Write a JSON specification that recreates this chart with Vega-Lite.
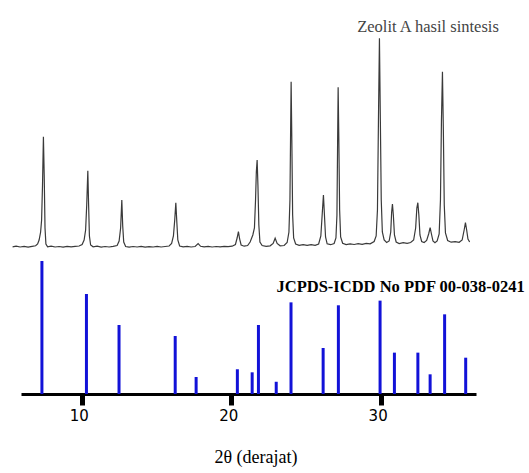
{
  "$schema": "https://vega.github.io/schema/vega-lite/v6.json",
  "width": 455,
  "height": 374,
  "autosize": {"type": "none"},
  "padding": {"left": 21, "top": 20, "right": 53, "bottom": 79},
  "background": "white",
  "config": {"view": {"stroke": null}},
  "datasets": {
    "xrd": [
      {"theta": 5.368, "intensity": -0.8}, {"theta": 5.603, "intensity": -0.2}, {"theta": 5.870, "intensity": -1.0},
      {"theta": 6.138, "intensity": -0.4}, {"theta": 6.406, "intensity": -1.1}, {"theta": 6.674, "intensity": -0.3},
      {"theta": 6.908, "intensity": 0.2}, {"theta": 7.042, "intensity": 2}, {"theta": 7.142, "intensity": 6},
      {"theta": 7.243, "intensity": 14}, {"theta": 7.309, "intensity": 26}, {"theta": 7.370, "intensity": 61},
      {"theta": 7.430, "intensity": 109.3}, {"theta": 7.483, "intensity": 71}, {"theta": 7.537, "intensity": 18},
      {"theta": 7.597, "intensity": 2}, {"theta": 7.711, "intensity": -0.8}, {"theta": 7.945, "intensity": -0.2},
      {"theta": 8.213, "intensity": -1.0}, {"theta": 8.481, "intensity": -0.5}, {"theta": 8.748, "intensity": -1.2},
      {"theta": 9.016, "intensity": -0.4}, {"theta": 9.284, "intensity": -0.9}, {"theta": 9.552, "intensity": -0.3},
      {"theta": 9.819, "intensity": 0}, {"theta": 10.020, "intensity": 1.5}, {"theta": 10.154, "intensity": 6},
      {"theta": 10.254, "intensity": 16}, {"theta": 10.328, "intensity": 41}, {"theta": 10.402, "intensity": 75.3},
      {"theta": 10.455, "intensity": 41}, {"theta": 10.509, "intensity": 10}, {"theta": 10.589, "intensity": 1},
      {"theta": 10.756, "intensity": -0.8}, {"theta": 11.024, "intensity": -0.2}, {"theta": 11.292, "intensity": -1.1},
      {"theta": 11.559, "intensity": -0.5}, {"theta": 11.827, "intensity": -1.0}, {"theta": 12.095, "intensity": -0.3},
      {"theta": 12.363, "intensity": 0.5}, {"theta": 12.496, "intensity": 5}, {"theta": 12.597, "intensity": 18},
      {"theta": 12.677, "intensity": 46}, {"theta": 12.737, "intensity": 20}, {"theta": 12.804, "intensity": 4},
      {"theta": 12.932, "intensity": -0.5}, {"theta": 13.166, "intensity": -1.2}, {"theta": 13.434, "intensity": -0.5},
      {"theta": 13.701, "intensity": -1.0}, {"theta": 13.969, "intensity": -0.3}, {"theta": 14.237, "intensity": -1.1},
      {"theta": 14.504, "intensity": -0.6}, {"theta": 14.772, "intensity": -1.0}, {"theta": 15.040, "intensity": -0.4},
      {"theta": 15.307, "intensity": -1.0}, {"theta": 15.575, "intensity": -0.5}, {"theta": 15.843, "intensity": 0},
      {"theta": 16.010, "intensity": 2.5}, {"theta": 16.131, "intensity": 10}, {"theta": 16.218, "intensity": 26},
      {"theta": 16.291, "intensity": 43.3}, {"theta": 16.358, "intensity": 24}, {"theta": 16.425, "intensity": 6},
      {"theta": 16.546, "intensity": 0}, {"theta": 16.780, "intensity": -0.8}, {"theta": 17.048, "intensity": -0.3},
      {"theta": 17.315, "intensity": -1.0}, {"theta": 17.583, "intensity": -0.5}, {"theta": 17.784, "intensity": 2.5},
      {"theta": 17.951, "intensity": -0.3}, {"theta": 18.186, "intensity": -0.9}, {"theta": 18.453, "intensity": -0.4},
      {"theta": 18.721, "intensity": -1.0}, {"theta": 18.989, "intensity": -0.5}, {"theta": 19.256, "intensity": -0.9},
      {"theta": 19.524, "intensity": -0.3}, {"theta": 19.792, "intensity": -0.7}, {"theta": 20.060, "intensity": -0.2},
      {"theta": 20.280, "intensity": 1.5}, {"theta": 20.394, "intensity": 8}, {"theta": 20.481, "intensity": 14.3},
      {"theta": 20.561, "intensity": 7}, {"theta": 20.662, "intensity": 1}, {"theta": 20.863, "intensity": -0.2},
      {"theta": 21.097, "intensity": 0.5}, {"theta": 21.264, "intensity": 4}, {"theta": 21.445, "intensity": 11},
      {"theta": 21.552, "intensity": 18}, {"theta": 21.626, "intensity": 46}, {"theta": 21.679, "intensity": 74},
      {"theta": 21.733, "intensity": 86}, {"theta": 21.786, "intensity": 61}, {"theta": 21.847, "intensity": 21},
      {"theta": 21.920, "intensity": 4}, {"theta": 22.068, "intensity": 0.5}, {"theta": 22.335, "intensity": -0.3},
      {"theta": 22.603, "intensity": 0.2}, {"theta": 22.804, "intensity": 2.5}, {"theta": 22.938, "intensity": 7.7},
      {"theta": 23.071, "intensity": 2.5}, {"theta": 23.272, "intensity": 0.2}, {"theta": 23.540, "intensity": 0.5},
      {"theta": 23.741, "intensity": 3.5}, {"theta": 23.861, "intensity": 14}, {"theta": 23.928, "intensity": 46},
      {"theta": 23.968, "intensity": 106}, {"theta": 24.008, "intensity": 164.3}, {"theta": 24.055, "intensity": 106},
      {"theta": 24.109, "intensity": 31}, {"theta": 24.176, "intensity": 8}, {"theta": 24.310, "intensity": 2},
      {"theta": 24.544, "intensity": 0.7}, {"theta": 24.811, "intensity": 1.4}, {"theta": 25.079, "intensity": 0.6},
      {"theta": 25.347, "intensity": 1.3}, {"theta": 25.615, "intensity": 0.7}, {"theta": 25.849, "intensity": 2},
      {"theta": 25.996, "intensity": 10}, {"theta": 26.097, "intensity": 34}, {"theta": 26.170, "intensity": 51},
      {"theta": 26.237, "intensity": 31}, {"theta": 26.311, "intensity": 9}, {"theta": 26.418, "intensity": 2.2},
      {"theta": 26.652, "intensity": 1.3}, {"theta": 26.886, "intensity": 2.5}, {"theta": 27.007, "intensity": 8},
      {"theta": 27.074, "intensity": 31}, {"theta": 27.114, "intensity": 96}, {"theta": 27.154, "intensity": 158.7},
      {"theta": 27.201, "intensity": 106}, {"theta": 27.254, "intensity": 36}, {"theta": 27.321, "intensity": 9},
      {"theta": 27.455, "intensity": 2.8}, {"theta": 27.690, "intensity": 1.4}, {"theta": 27.957, "intensity": 2.2},
      {"theta": 28.225, "intensity": 1.5}, {"theta": 28.493, "intensity": 2.4}, {"theta": 28.760, "intensity": 1.7},
      {"theta": 29.028, "intensity": 2.6}, {"theta": 29.296, "intensity": 2.2}, {"theta": 29.564, "intensity": 4.5},
      {"theta": 29.698, "intensity": 10}, {"theta": 29.785, "intensity": 36}, {"theta": 29.852, "intensity": 126},
      {"theta": 29.918, "intensity": 207.7}, {"theta": 29.979, "intensity": 126}, {"theta": 30.039, "intensity": 46},
      {"theta": 30.112, "intensity": 14}, {"theta": 30.233, "intensity": 6}, {"theta": 30.400, "intensity": 3.5},
      {"theta": 30.567, "intensity": 5}, {"theta": 30.675, "intensity": 14}, {"theta": 30.735, "intensity": 34},
      {"theta": 30.788, "intensity": 42}, {"theta": 30.848, "intensity": 31}, {"theta": 30.922, "intensity": 11},
      {"theta": 31.036, "intensity": 4}, {"theta": 31.237, "intensity": 2.5}, {"theta": 31.504, "intensity": 3.4},
      {"theta": 31.772, "intensity": 2.7}, {"theta": 32.006, "intensity": 3.5}, {"theta": 32.207, "intensity": 6},
      {"theta": 32.341, "intensity": 18}, {"theta": 32.421, "intensity": 38}, {"theta": 32.488, "intensity": 43.3},
      {"theta": 32.555, "intensity": 31}, {"theta": 32.629, "intensity": 11}, {"theta": 32.742, "intensity": 4.5},
      {"theta": 32.910, "intensity": 3.5}, {"theta": 33.077, "intensity": 5.5}, {"theta": 33.211, "intensity": 12},
      {"theta": 33.311, "intensity": 18.3}, {"theta": 33.398, "intensity": 12}, {"theta": 33.499, "intensity": 5},
      {"theta": 33.633, "intensity": 3.2}, {"theta": 33.780, "intensity": 5}, {"theta": 33.914, "intensity": 12},
      {"theta": 34.001, "intensity": 46}, {"theta": 34.068, "intensity": 126}, {"theta": 34.135, "intensity": 174.3},
      {"theta": 34.195, "intensity": 116}, {"theta": 34.256, "intensity": 41}, {"theta": 34.336, "intensity": 13},
      {"theta": 34.483, "intensity": 5.5}, {"theta": 34.717, "intensity": 3.8}, {"theta": 34.985, "intensity": 4.4},
      {"theta": 35.253, "intensity": 3.7}, {"theta": 35.453, "intensity": 6}, {"theta": 35.587, "intensity": 16},
      {"theta": 35.674, "intensity": 23.3}, {"theta": 35.755, "intensity": 16}, {"theta": 35.842, "intensity": 7},
      {"theta": 35.955, "intensity": 4}
    ],
    "jcpds": [
      {"theta": 7.33, "rel": 100}, {"theta": 10.31, "rel": 75.2}, {"theta": 12.49, "rel": 51.9},
      {"theta": 16.25, "rel": 43.6}, {"theta": 17.65, "rel": 12.8}, {"theta": 20.41, "rel": 18.6},
      {"theta": 21.40, "rel": 16.3}, {"theta": 21.82, "rel": 51.9}, {"theta": 23.01, "rel": 9.2},
      {"theta": 24.00, "rel": 68.9}, {"theta": 26.15, "rel": 34.6}, {"theta": 27.17, "rel": 66.7},
      {"theta": 29.96, "rel": 70.2}, {"theta": 30.92, "rel": 31.1}, {"theta": 32.49, "rel": 31.1},
      {"theta": 33.31, "rel": 14.8}, {"theta": 34.28, "rel": 59.9}, {"theta": 35.69, "rel": 27.3}
    ],
    "labels": [
      {"label": "Zeolit A hasil sintesis"}
    ],
    "refLabel": [
      {"label": "JCPDS-ICDD No PDF 00-038-0241"}
    ]
  },
  "layer": [
    {
      "layer": [
        {
          "data": {"name": "xrd"},
          "mark": {"type": "line", "color": "#3a3a3a", "strokeWidth": 1.2, "clip": false},
          "encoding": {
            "x": {
              "field": "theta",
              "type": "quantitative",
              "scale": {"domain": [5.93, 36.38], "nice": false, "zero": false},
              "axis": {
                "title": "2θ (derajat)",
                "values": [10, 20, 30],
                "format": "d",
                "grid": false,
                "domainColor": "black",
                "domainWidth": 3,
                "tickColor": "black",
                "tickWidth": 5,
                "tickSize": 11,
                "labelFont": "DejaVu Sans",
                "labelFontSize": 15,
                "labelColor": "black",
                "labelBaseline": "alphabetic",
                "labelPadding": 15,
                "labelOffset": -3,
                "labelFlush": false,
                "titleFont": "Liberation Serif",
                "titleFontSize": 18,
                "titleFontWeight": "normal",
                "titleColor": "black",
                "titleX": 234.5,
                "titleY": 68,
                "titleBaseline": "alphabetic",
                "titleAlign": "center"
              }
            },
            "y": {"field": "intensity", "type": "quantitative", "scale": {"domain": [-148, 226], "nice": false, "zero": false}, "axis": null}
          }
        },
        {
          "data": {"name": "labels"},
          "mark": {"type": "text", "font": "Liberation Serif", "fontSize": 16.5, "color": "#444444", "align": "left", "baseline": "alphabetic"},
          "encoding": {
            "x": {"datum": 28.43},
            "y": {"datum": 214.3},
            "text": {"field": "label", "type": "nominal"}
          }
        }
      ]
    },
    {
      "layer": [
        {
          "data": {"name": "jcpds"},
          "mark": {"type": "rule", "color": "#1212d8", "strokeWidth": 3, "strokeCap": "butt"},
          "encoding": {
            "x": {"field": "theta", "type": "quantitative"},
            "y": {"field": "rel", "type": "quantitative", "scale": {"domain": [0, 281.2], "nice": false, "zero": false}, "axis": null},
            "y2": {"datum": 0}
          }
        },
        {
          "data": {"name": "refLabel"},
          "mark": {"type": "text", "font": "Liberation Serif", "fontSize": 16.5, "fontWeight": "bold", "color": "black", "align": "left", "baseline": "alphabetic"},
          "encoding": {
            "x": {"datum": 23.03},
            "y": {"datum": 76.9},
            "text": {"field": "label", "type": "nominal"}
          }
        }
      ]
    }
  ],
  "resolve": {"scale": {"y": "independent"}}
}
